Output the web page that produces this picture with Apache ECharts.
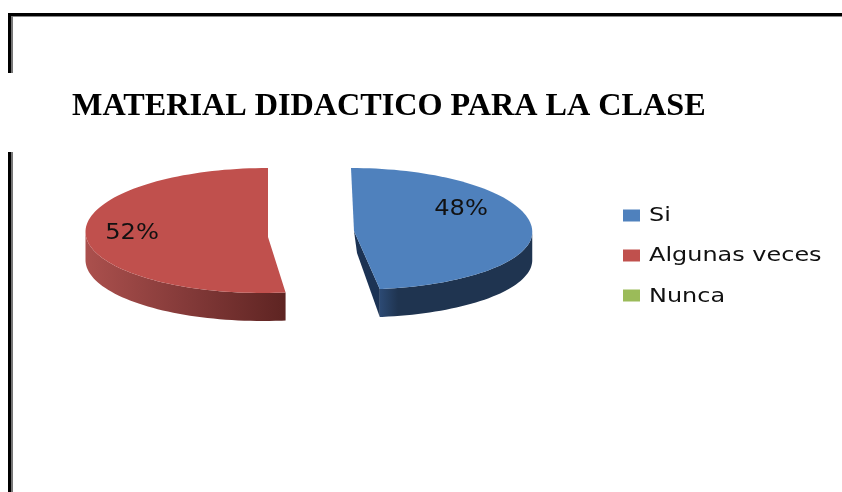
<!DOCTYPE html>
<html>
<head>
<meta charset="utf-8">
<style>
  html, body { margin: 0; padding: 0; background: #fff; }
  #main { width: 842px; height: 492px; }
</style>
<script src="https://cdn.jsdelivr.net/npm/echarts@6/dist/echarts.min.js"></script>
</head>
<body>
<div id="main"></div>
<script>
const titleText = 'MATERIAL DIDACTICO PARA LA CLASE';
const categories = ['Si', 'Algunas veces', 'Nunca'];
const values = [48, 52, 0];
const labels = ['48%', '52%', '0%'];
const colors = ['#4F81BD', '#C0504D', '#9BBB59'];

// look of each exploded slice
const sliceLook = [
  { cx: 351, cy: 231, rx: 178, ryTop: 63, ryBot: 58.5, dir: 1, skew: 6.5, apex: [354, 231], label: [461, 210],
    side: [{ offset: 0, color: '#2C4A74' }, { offset: 0.12, color: '#1F3450' }, { offset: 1, color: '#1F3450' }] },
  { cx: 268, cy: 231, rx: 180, ryTop: 63, ryBot: 62, dir: -1, skew: -5, apex: [268, 237], label: [132, 234],
    side: [{ offset: 0, color: '#AB504D' }, { offset: 0.5, color: '#843A39' }, { offset: 1, color: '#5E2422' }] },
  null
];
const depth = 28;
const total = values.reduce((a, b) => a + b, 0);

function rimPoint(look, deg) {
  const t = deg * Math.PI / 180;
  const ry = Math.cos(t) > 0 ? look.ryTop : look.ryBot;
  return [
    look.cx + look.dir * look.rx * Math.sin(t) + look.skew * (1 - Math.cos(t)) / 2,
    look.cy - ry * Math.cos(t)
  ];
}

function renderSlice(params, api) {
  const value = api.value(0);
  if (!value) return { type: 'group', children: [] };
  const i = params.seriesIndex;
  const look = sliceLook[i];
  const sweep = value / total * 360;

  const rim = [];
  for (let d = 0; d <= sweep; d += 2) rim.push(rimPoint(look, d));
  rim.push(rimPoint(look, sweep));
  const end = rim[rim.length - 1];

  // outer wall: only the part of the rim in front (below the widest point)
  const front = rim.filter((p, k) => k * 2 >= 90);
  const wall = front.concat(front.slice().reverse().map(p => [p[0], p[1] + depth]));

  const children = [{
    type: 'polygon',
    shape: { points: wall },
    style: { fill: new echarts.graphic.LinearGradient(0, 0, 1, 0, look.side) }
  }];
  if (look.dir > 0) {
    // cut face that shows on the right hand slice
    children.push({
      type: 'polygon',
      shape: { points: [look.apex, end, [end[0], end[1] + depth], [look.apex[0] + 3, look.apex[1] + 22]] },
      style: { fill: '#1C3354' }
    });
  }
  children.push({
    type: 'polygon',
    shape: { points: rim.concat([look.apex]) },
    style: { fill: colors[i] }
  });
  children.push({
    type: 'text',
    x: look.label[0],
    y: look.label[1],
    scaleX: 1.15,
    style: {
      text: labels[i],
      font: '21px "DejaVu Sans"',
      fill: '#111',
      align: 'center',
      verticalAlign: 'middle'
    }
  });
  return { type: 'group', children: children };
}

const legendY = [215.5, 255.5, 295.5];
const legendTextY = [216, 256, 297];

const frame = [
  { x: 8, y: 13, width: 834, height: 3, fill: '#000' },
  { x: 11, y: 16, width: 831, height: 1, fill: '#888' },
  { x: 8, y: 13, width: 3, height: 60, fill: '#000' },
  { x: 11, y: 16, width: 2, height: 57, fill: '#777' },
  { x: 8, y: 152, width: 3, height: 340, fill: '#000' },
  { x: 11, y: 152, width: 2, height: 340, fill: '#777' }
].map(r => ({
  type: 'rect',
  shape: { x: r.x, y: r.y, width: r.width, height: r.height },
  style: { fill: r.fill },
  silent: true
}));

const legendMarks = [];
categories.forEach((name, i) => {
  legendMarks.push({
    type: 'rect',
    shape: { x: 623, y: legendY[i] - 6, width: 17, height: 12 },
    style: { fill: colors[i] }
  });
  legendMarks.push({
    type: 'text',
    x: 649,
    y: legendTextY[i],
    scaleX: 1.26,
    style: {
      text: name,
      font: '19px "DejaVu Sans"',
      fill: '#111',
      align: 'left',
      verticalAlign: 'middle'
    }
  });
});

const myChart = echarts.init(document.getElementById('main'), null, { renderer: 'canvas' });
const option = {
  animation: false,
  backgroundColor: '#fff',
  title: {
    text: titleText,
    left: 67,
    top: 86,
    textStyle: {
      fontFamily: '"Liberation Serif"',
      fontWeight: 'bold',
      fontSize: 32.2,
      color: '#000'
    }
  },
  graphic: { elements: frame.concat(legendMarks) },
  series: categories.map((name, i) => ({
    name: name,
    type: 'custom',
    coordinateSystem: 'none',
    silent: true,
    renderItem: renderSlice,
    data: [[values[i]]]
  }))
};
myChart.setOption(option);
</script>
</body>
</html>
